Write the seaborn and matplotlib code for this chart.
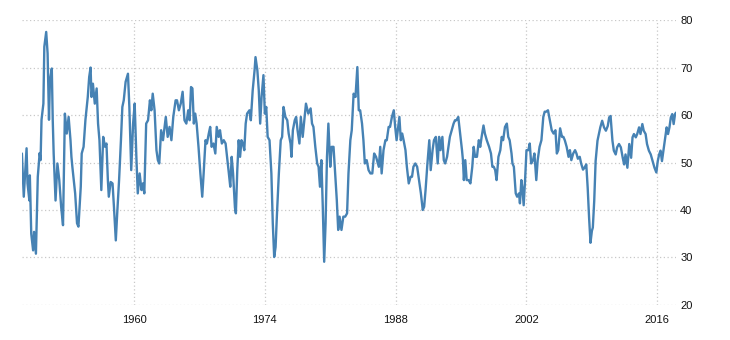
import seaborn as sns
import matplotlib.pyplot as plt
import pandas as pd

# ISM manufacturing PMI (decimal years)
year = [
    1948.0, 1948.2, 1948.5, 1948.6, 1948.8, 1948.85, 1949.0, 1949.2, 1949.3, 1949.5,
    1949.7, 1949.9, 1950.0, 1950.1, 1950.3, 1950.4, 1950.6, 1950.75, 1950.9, 1951.0,
    1951.2, 1951.3, 1951.4, 1951.6, 1951.8, 1952.0, 1952.2, 1952.4, 1952.6, 1952.8,
    1953.0, 1953.2, 1953.3, 1953.4, 1953.7, 1953.9, 1954.05, 1954.3, 1954.4, 1954.6,
    1954.8, 1955.05, 1955.2, 1955.35, 1955.45, 1955.6, 1955.8, 1956.0, 1956.15, 1956.3,
    1956.5, 1956.7, 1956.9, 1957.05, 1957.2, 1957.3, 1957.5, 1957.7, 1957.85, 1958.05,
    1958.2, 1958.4, 1958.6, 1958.75, 1958.9, 1959.1, 1959.35, 1959.5, 1959.7, 1959.9,
    1960.07, 1960.25, 1960.4, 1960.6, 1960.8, 1960.95, 1961.1, 1961.3, 1961.5, 1961.7,
    1961.85, 1962.0, 1962.2, 1962.4, 1962.55, 1962.7, 1962.9, 1963.1, 1963.4, 1963.6,
    1963.8, 1964.0, 1964.2, 1964.45, 1964.6, 1964.8, 1965.0, 1965.2, 1965.4, 1965.6,
    1965.8, 1965.95, 1966.1, 1966.25, 1966.4, 1966.55, 1966.7, 1966.9, 1967.1, 1967.3,
    1967.45, 1967.65, 1967.8, 1968.0, 1968.15, 1968.3, 1968.5, 1968.7, 1968.85, 1969.05,
    1969.2, 1969.4, 1969.6, 1969.8, 1970.0, 1970.15, 1970.3, 1970.45, 1970.6, 1970.8,
    1970.9, 1971.05, 1971.2, 1971.35, 1971.5, 1971.65, 1971.8, 1971.95, 1972.1, 1972.35,
    1972.5, 1972.7, 1972.9, 1973.0, 1973.2, 1973.35, 1973.5, 1973.65, 1973.85, 1974.0,
    1974.15, 1974.3, 1974.5, 1974.7, 1974.85, 1975.0, 1975.15, 1975.3, 1975.5, 1975.7,
    1975.85, 1976.0, 1976.2, 1976.4, 1976.55, 1976.75, 1976.85, 1977.0, 1977.2, 1977.35,
    1977.5, 1977.7, 1977.85, 1978.05, 1978.4, 1978.65, 1978.9, 1979.05, 1979.2, 1979.4,
    1979.6, 1979.75, 1979.9, 1980.05, 1980.2, 1980.35, 1980.5, 1980.65, 1980.8, 1981.0,
    1981.15, 1981.35, 1981.5, 1981.7, 1981.85, 1982.0, 1982.2, 1982.4, 1982.6, 1982.8,
    1982.95, 1983.15, 1983.3, 1983.5, 1983.7, 1983.9, 1984.05, 1984.2, 1984.4, 1984.55,
    1984.7, 1984.9, 1985.1, 1985.3, 1985.5, 1985.7, 1985.9, 1986.2, 1986.35, 1986.5,
    1986.7, 1986.9, 1987.05, 1987.25, 1987.4, 1987.6, 1987.8, 1987.95, 1988.1, 1988.4,
    1988.55, 1988.7, 1988.85, 1989.05, 1989.2, 1989.4, 1989.6, 1989.75, 1989.9, 1990.1,
    1990.3, 1990.5, 1990.7, 1990.9, 1991.05, 1991.2, 1991.4, 1991.6, 1991.75, 1991.95,
    1992.1, 1992.3, 1992.5, 1992.65, 1992.8, 1993.0, 1993.15, 1993.3, 1993.5, 1993.65,
    1993.8, 1994.0, 1994.2, 1994.35, 1994.5, 1994.7, 1994.9, 1995.1, 1995.2, 1995.3,
    1995.45, 1995.6, 1995.8, 1996.0, 1996.2, 1996.35, 1996.5, 1996.7, 1996.9, 1997.05,
    1997.2, 1997.4, 1997.55, 1997.75, 1998.0, 1998.2, 1998.35, 1998.5, 1998.65, 1998.8,
    1999.0, 1999.2, 1999.35, 1999.5, 1999.7, 1999.9, 2000.05, 2000.2, 2000.4, 2000.5,
    2000.65, 2000.85, 2001.0, 2001.2, 2001.3, 2001.45, 2001.55, 2001.7, 2001.85, 2002.0,
    2002.2, 2002.35, 2002.5, 2002.7, 2002.85, 2003.05, 2003.2, 2003.4, 2003.6, 2003.8,
    2003.95, 2004.1, 2004.3, 2004.5, 2004.7, 2004.9, 2005.1, 2005.25, 2005.4, 2005.6,
    2005.8, 2005.95, 2006.1, 2006.3, 2006.5, 2006.65, 2006.8, 2007.0, 2007.2, 2007.35,
    2007.5, 2007.7, 2007.85, 2008.05, 2008.2, 2008.4, 2008.55, 2008.7, 2008.85, 2009.0,
    2009.1, 2009.25, 2009.4, 2009.6, 2009.75, 2009.9, 2010.1, 2010.3, 2010.5, 2010.7,
    2010.85, 2011.0, 2011.2, 2011.35, 2011.55, 2011.7, 2011.9, 2012.1, 2012.3, 2012.45,
    2012.6, 2012.8, 2013.0, 2013.2, 2013.35, 2013.5, 2013.7, 2013.85, 2014.05, 2014.2,
    2014.4, 2014.55, 2014.75, 2014.9, 2015.1, 2015.3, 2015.5, 2015.7, 2015.9, 2016.05,
    2016.2, 2016.35, 2016.5, 2016.7, 2016.9, 2017.0, 2017.15, 2017.3, 2017.45, 2017.6,
    2017.75, 2017.9, 2018.0,
]

pmi = [
    51.9, 42.8, 53.0, 45.6, 42.0, 47.3, 35.0, 31.5, 35.4, 30.8,
    47.0, 52.0, 50.5, 59.0, 62.4, 74.4, 77.5, 73.0, 59.0, 67.3,
    69.8, 59.0, 51.9, 42.0, 49.8, 46.3, 40.7, 36.8, 60.3, 56.1,
    59.6, 54.7, 51.2, 49.1, 43.5, 37.2, 36.5, 44.9, 51.9, 53.3,
    59.0, 63.8, 68.0, 70.0, 63.8, 66.6, 62.4, 65.6, 58.2, 54.7,
    44.2, 55.4, 53.3, 54.0, 46.3, 42.8, 45.9, 45.6, 40.7, 33.6,
    39.3, 46.3, 54.7, 61.7, 63.1, 67.0, 68.7, 61.7, 48.4, 58.2,
    62.4, 51.2, 43.5, 47.7, 44.2, 45.6, 43.5, 58.2, 58.9, 63.1,
    61.0, 64.5, 61.0, 52.6, 50.5, 49.8, 56.8, 54.7, 59.6, 55.4,
    57.5, 54.7, 59.6, 63.1, 63.1, 61.0, 62.4, 64.9, 58.9, 58.2,
    61.0, 58.9, 65.9, 65.6, 58.2, 60.3, 58.2, 53.3, 47.7, 42.8,
    47.7, 54.7, 54.0, 56.1, 57.5, 53.3, 54.0, 51.9, 57.5, 55.4,
    56.8, 54.0, 54.7, 54.0, 50.5, 47.7, 44.9, 51.2, 47.7, 40.5,
    39.3, 48.4, 54.7, 51.2, 54.7, 54.0, 52.6, 58.2, 60.3, 61.0,
    58.9, 65.2, 69.4, 72.2, 69.4, 65.2, 58.2, 63.8, 68.4, 60.3,
    61.7, 55.4, 54.7, 47.7, 37.2, 30.1, 32.2, 39.3, 47.7, 54.7,
    55.4, 61.7, 59.6, 58.9, 56.1, 54.0, 51.2, 56.8, 58.9, 59.6,
    56.8, 54.0, 59.6, 55.4, 62.4, 60.3, 61.4, 58.2, 57.5, 53.3,
    49.8, 49.1, 44.9, 50.5, 40.7, 29.1, 37.2, 51.2, 58.2, 49.1,
    53.3, 53.3, 48.4, 42.1, 35.8, 38.6, 35.8, 38.6, 38.6, 39.3,
    47.7, 54.7, 56.8, 64.5, 63.8, 70.1, 61.0, 61.0, 58.2, 54.7,
    49.8, 50.5, 48.4, 47.7, 47.7, 51.9, 51.2, 49.1, 53.3, 47.7,
    52.6, 54.7, 54.7, 57.5, 57.5, 59.6, 61.0, 57.5, 54.7, 59.6,
    54.7, 56.1, 54.7, 52.6, 49.1, 45.6, 47.0, 47.0, 49.1, 49.8,
    49.1, 46.3, 43.5, 40.0, 40.7, 44.2, 49.8, 54.7, 48.4, 52.6,
    54.7, 55.4, 49.8, 55.4, 52.6, 55.4, 50.5, 49.8, 51.2, 53.3,
    55.4, 56.8, 58.2, 58.9, 58.9, 59.6, 56.1, 52.6, 50.5, 46.3,
    50.5, 46.3, 46.3, 45.6, 49.1, 53.3, 51.2, 51.2, 54.7, 53.3,
    55.4, 57.8, 56.1, 54.7, 53.3, 51.9, 49.1, 49.1, 48.4, 46.3,
    51.2, 52.6, 55.4, 54.7, 57.5, 58.2, 55.4, 54.7, 51.9, 49.8,
    49.1, 43.5, 42.8, 43.5, 41.4, 46.3, 44.9, 41.0, 46.3, 52.6,
    52.6, 54.0, 49.8, 50.5, 51.9, 46.3, 50.5, 53.3, 54.7, 59.6,
    60.7, 60.7, 61.0, 58.9, 56.8, 56.1, 56.8, 51.9, 52.6, 57.2,
    55.4, 55.4, 54.7, 53.3, 51.2, 52.6, 50.5, 51.9, 52.6, 51.9,
    50.8, 51.2, 49.8, 48.5, 48.9, 49.6, 44.7, 38.4, 33.1, 35.6,
    36.3, 41.9, 50.3, 54.6, 56.0, 57.4, 58.8, 57.4, 56.7, 57.7,
    59.5, 59.8, 54.6, 52.5, 51.7, 53.2, 53.9, 53.2, 51.0, 49.6,
    51.7, 48.9, 53.9, 51.0, 55.3, 56.0, 55.3, 56.0, 57.4, 56.0,
    58.1, 56.7, 56.0, 53.9, 52.5, 51.7, 50.3, 48.9, 47.9, 50.3,
    51.7, 52.5, 50.3, 53.2, 56.0, 57.4, 56.0, 57.4, 59.5, 60.2,
    58.1, 60.2, 60.5,
]

x_ticks = [1960, 1974, 1988, 2002, 2016]
y_ticks = [20, 30, 40, 50, 60, 70, 80]

df = pd.DataFrame({"year": year, "pmi": pmi})

sns.set_style("white")
plt.rcParams["font.family"] = ["Liberation Sans", "DejaVu Sans"]

fig = plt.figure(figsize=(7.3, 3.4), dpi=100)
ax = fig.add_axes([0.030, 0.103, 0.896, 0.838])

sns.lineplot(data=df, x="year", y="pmi", ax=ax, color="#4682b4",
             linewidth=1.7, estimator=None, sort=False)

ax.set_xlim(1948, 2018)
ax.set_ylim(20, 80)
ax.set_xticks(x_ticks)
ax.set_yticks(y_ticks)
ax.set_xticklabels([str(t) for t in x_ticks])
ax.yaxis.tick_right()
ax.grid(True, linestyle=(0, (1, 2)), color="#c8c8c8", linewidth=0.9)
ax.tick_params(axis="x", length=4, color="#c8c8c8", labelsize=8, pad=3,
               labelcolor="#111111")
ax.tick_params(axis="y", length=0, labelsize=8, pad=3, labelcolor="#111111")
ax.set_xlabel("")
ax.set_ylabel("")
sns.despine(ax=ax, left=True, bottom=True, right=True, top=True)

fig.savefig("out.png", dpi=100)
